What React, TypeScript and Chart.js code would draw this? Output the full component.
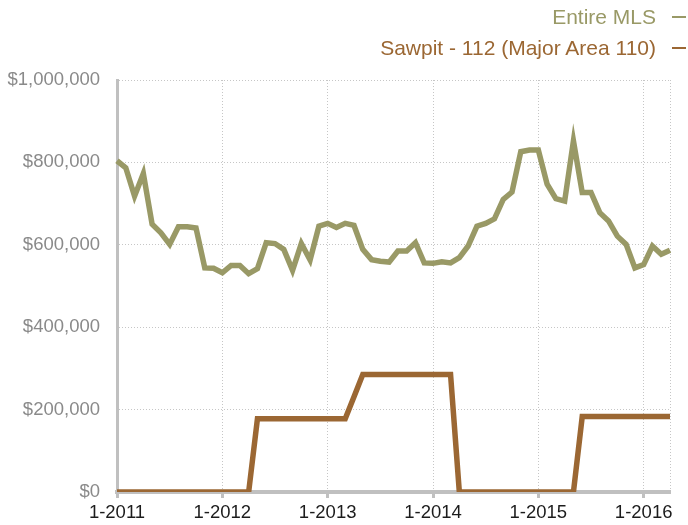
import React, { useEffect, useRef } from "react";
import { Chart, registerables } from "chart.js";

Chart.register(...registerables);

const FONT = '"Liberation Sans", Arial, Helvetica, sans-serif';
const GREEN = "#999966";
const BROWN = "#9b6733";

// Monthly categories Jan 2011 .. Apr 2016
const YEARS = [2011, 2012, 2013, 2014, 2015, 2016];
const LAST_MONTH_2016 = 4;
const CATEGORIES: string[] = [];
for (const y of YEARS) {
  for (let m = 1; m <= 12; m++) {
    if (y === 2016 && m > LAST_MONTH_2016) break;
    CATEGORIES.push(`${m}-${y}`);
  }
}

const ENTIRE_MLS = [
  804000, 787000, 718000, 773000, 650000, 629000, 601000, 644000, 644000, 641000, 544000, 543000,
  532000, 550000, 550000, 530000, 542000, 605000, 603000, 589000, 538000, 603000, 563000, 645000,
  652000, 642000, 652000, 647000, 589000, 564000, 560000, 558000, 585000, 585000, 605000, 556000,
  555000, 559000, 556000, 569000, 597000, 645000, 652000, 663000, 710000, 728000, 826000, 830000,
  830000, 747000, 712000, 706000, 852000, 727000, 727000, 678000, 658000, 621000, 601000, 544000,
  552000, 597000, 577000, 587000,
];

const SAWPIT = [
  0, 0, 0, 0, 0, 0, 0, 0, 0, 0, 0, 0,
  0, 0, 0, 0, 178000, 178000, 178000, 178000, 178000, 178000, 178000, 178000,
  178000, 178000, 178000, 231000, 285000, 285000, 285000, 285000, 285000, 285000, 285000, 285000,
  285000, 285000, 285000, 0, 0, 0, 0, 0, 0, 0, 0, 0,
  0, 0, 0, 0, 0, 183000, 183000, 183000, 183000, 183000, 183000, 183000,
  183000, 183000, 183000, 183000,
];

const Y_MIN = 0;
const Y_MAX = 1000000;
const Y_STEP = 200000;

const SERIES_NAMES = ["Entire MLS", "Sawpit - 112 (Major Area 110)"];

export default function App() {
  const ref = useRef<HTMLCanvasElement>(null);

  useEffect(() => {
    if (!ref.current) return;
    const last = CATEGORIES.length - 1;
    const isYear = (i: number) => i % 12 === 0;
    const gridColor = (c: any) =>
      isYear(c.index) || c.index === last ? "#c6c6c6" : "rgba(0,0,0,0)";
    const tickColor = (c: any) => (isYear(c.index) ? "#c0c0c0" : "rgba(0,0,0,0)");

    const chart = new Chart(ref.current, {
      type: "line",
      data: {
        labels: CATEGORIES,
        datasets: [
          {
            label: SERIES_NAMES[0],
            data: ENTIRE_MLS,
            borderColor: GREEN,
            backgroundColor: GREEN,
            borderWidth: 5.5,
            pointRadius: 0,
            tension: 0,
            fill: false,
          },
          {
            label: SERIES_NAMES[1],
            data: SAWPIT,
            borderColor: BROWN,
            backgroundColor: BROWN,
            borderWidth: 5.5,
            pointRadius: 0,
            tension: 0,
            fill: false,
          },
        ],
      },
      options: {
        animation: false,
        responsive: false,
        maintainAspectRatio: false,
        layout: { padding: { top: 80, right: 18, left: 0, bottom: 0 } },
        plugins: {
          legend: { display: false },
          tooltip: { enabled: false },
          title: { display: false },
        },
        scales: {
          x: {
            grid: {
              color: gridColor,
              lineWidth: 1,
              drawTicks: true,
              tickLength: 6,
              tickWidth: 3,
              tickColor: tickColor,
            },
            border: { color: "#c0c0c0", width: 4, dash: [1, 2] },
            ticks: {
              autoSkip: false,
              maxRotation: 0,
              minRotation: 0,
              padding: 4,
              color: "#1c1c1c",
              font: { family: FONT, size: 18.5 },
              callback: function (this: any, value: any, index: number) {
                return isYear(index) ? this.getLabelForValue(value) : "";
              },
            },
            afterFit: (s: any) => {
              s.height = 33;
            },
          },
          y: {
            min: Y_MIN,
            max: Y_MAX,
            grid: { color: "#c6c6c6", lineWidth: 1, drawTicks: false },
            border: { color: "#c0c0c0", width: 3, dash: [1, 2] },
            ticks: {
              stepSize: Y_STEP,
              padding: 17,
              color: "#8a8a8a",
              font: { family: FONT, size: 18.5 },
              callback: (v: any) => "$" + Number(v).toLocaleString("en-US"),
            },
            afterFit: (s: any) => {
              s.width = 117;
            },
          },
        },
      },
    });
    return () => chart.destroy();
  }, []);

  const legendText: React.CSSProperties = {
    position: "absolute",
    right: 32,
    fontFamily: FONT,
    fontSize: 21,
    lineHeight: "24px",
    whiteSpace: "nowrap",
  };

  return (
    <div style={{ position: "absolute", left: 0, top: 0, width: 688, height: 525, background: "#fff" }}>
      <canvas ref={ref} width={688} height={525} style={{ display: "block" }} />
      <div style={{ ...legendText, top: 5, color: GREEN }}>{SERIES_NAMES[0]}</div>
      <div style={{ position: "absolute", left: 672, top: 16, width: 14, height: 2, background: GREEN }} />
      <div style={{ ...legendText, top: 36, color: BROWN }}>{SERIES_NAMES[1]}</div>
      <div style={{ position: "absolute", left: 672, top: 47, width: 14, height: 2, background: BROWN }} />
    </div>
  );
}
